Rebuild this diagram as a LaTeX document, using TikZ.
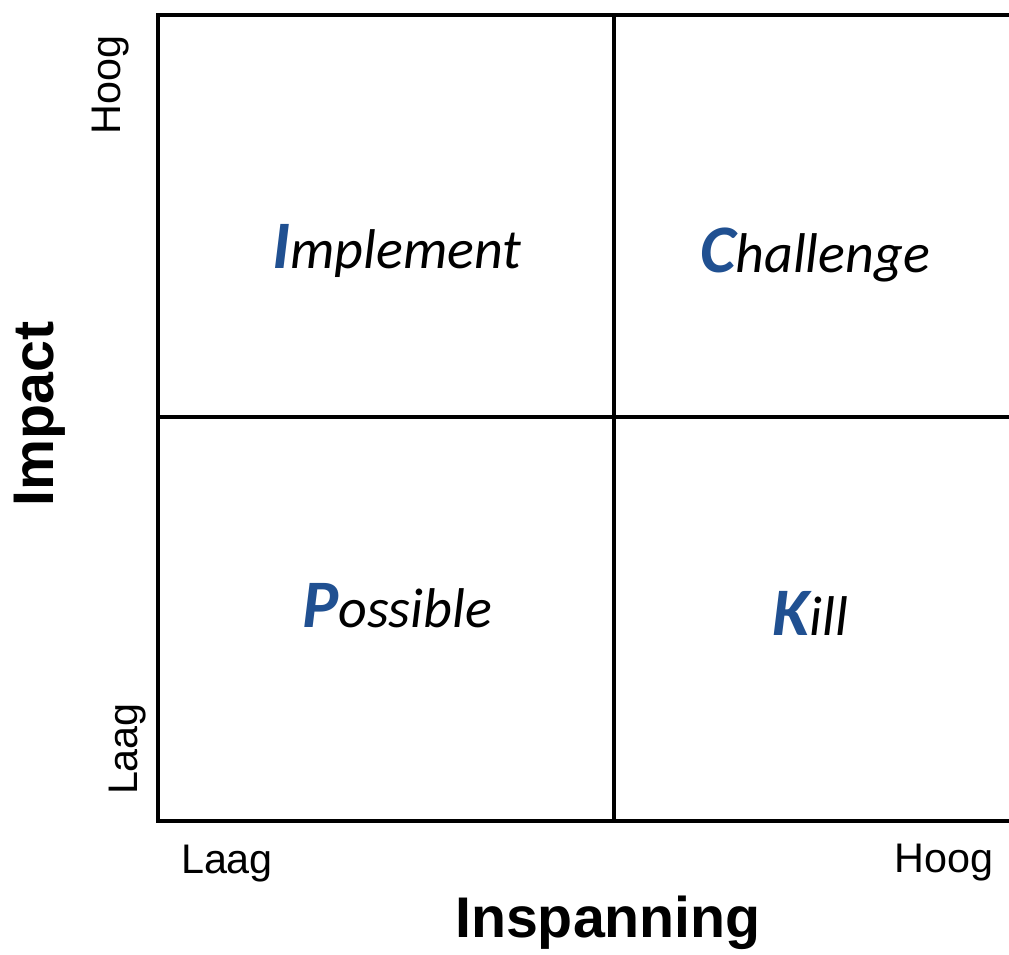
\documentclass[tikz,border=0pt]{standalone}
\usepackage{fontspec}
\setmainfont{Liberation Sans}
\newfontfamily\quadfont{Carlito}
\usepackage{tikz}
\usetikzlibrary{positioning}
\definecolor{pickblue}{RGB}{32,80,145}
% bold blue first letter of each quadrant name
\newcommand\pickinitial[1]{{\bfseries\color{pickblue}\fontsize{51}{51}\selectfont #1}}

\begin{document}
\begin{tikzpicture}[x=0.75pt,y=-0.75pt,
  grid/.style={line width=3.5pt},
  quad/.style={anchor=base west,inner sep=0pt,
    font=\quadfont\itshape\fontsize{42}{42}\selectfont},
  tick/.style={anchor=base,inner sep=0pt,font=\fontsize{31}{31}\selectfont},
  axis/.style={anchor=base,inner sep=0pt,font=\bfseries\fontsize{43}{43}\selectfont}
]
  \useasboundingbox (0,0) rectangle (1009,954);
  \clip (0,0) rectangle (1009,954);

  % frame and middle lines
  \coordinate (tl) at (158,15);
  \coordinate (bl) at (158,821);
  \coordinate (tr) at (1020,15);
  \coordinate (br) at (1020,821);
  \draw[grid] (tr) -- (tl) -- (bl) -- (br);
  \draw[grid] (614,15) -- (614,821);
  \draw[grid] (158,417) -- (1020,417);

  % quadrants
  \node[quad] (imp) at (272,268) {\pickinitial{I}mplement};
  \node[quad] (cha) at (700,272) {\pickinitial{C}hallenge};
  \node[quad] (pos) at (302,627) {\pickinitial{P}ossible};
  \node[quad] (kil) at (772,635) {\pickinitial{K}ill};

  % axes
  \node[tick] (xlo) at (227,873) {Laag};
  \node[tick] (xhi) at (944,872) {Hoog};
  \node[tick,rotate=90] (ylo) at (137,749) {Laag};
  \node[tick,rotate=90] (yhi) at (120,85) {Hoog};
  \node[axis,rotate=90] (yax) at (53,414) {Impact};
  \node[axis] (xax) at (608,937) {Inspanning};
\end{tikzpicture}
\end{document}
